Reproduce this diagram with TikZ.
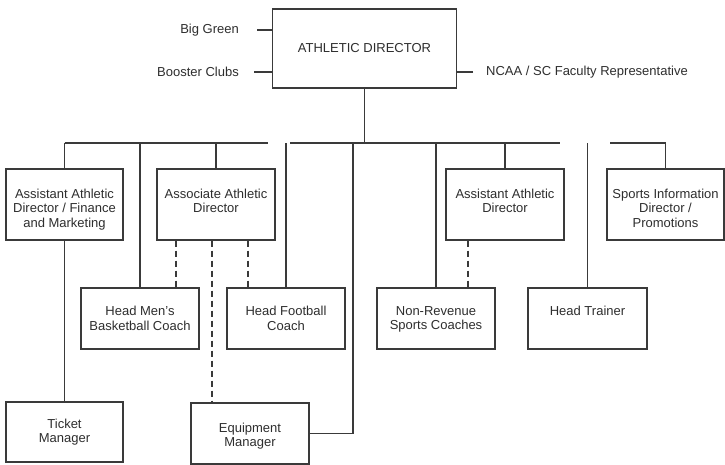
\documentclass[tikz,border=0pt]{standalone}
\usepackage{fontspec}
\setmainfont{Liberation Sans}
\usetikzlibrary{calc}
\definecolor{lineink}{HTML}{3A3A3A}
\definecolor{textink}{HTML}{2E2E2E}
\begin{document}
\begin{tikzpicture}[x=1pt,y=-1pt,
  ink/.style={draw=lineink, line width=1.4pt},
  orgbox/.style={ink, rectangle, inner sep=0pt, fill=white},
  boxtext/.style={anchor=north, align=center, inner sep=0pt, text=textink,
    font=\fontsize{13}{14.5}\selectfont},
  sidetext/.style={inner sep=0pt, text=textink, font=\fontsize{13}{14.5}\selectfont},
  link/.style={ink},
  dotted link/.style={ink, dash pattern=on 6pt off 4pt}]

  % page frame
  \fill[white] (0,0) rectangle (725,465);
  \useasboundingbox (0,0) rectangle (725,465);

  % top of the chart
  \node[orgbox, minimum width=184pt, minimum height=79pt, text=textink,
        font=\fontsize{13}{14.5}\selectfont] (ad) at (364.5,48.5) {ATHLETIC DIRECTOR};

  \node[sidetext, anchor=east] (bg) at (239,30) {Big Green};
  \node[sidetext, anchor=east] (bc) at (239,72) {Booster Clubs};
  \node[sidetext, anchor=west] (ncaa) at (486,72) {NCAA / SC Faculty Representative};
  \draw[link] ([xshift=18pt]bg.east) -- (bg.east -| ad.west);
  \draw[link] ([xshift=15pt]bc.east) -- (bc.east -| ad.west);
  \draw[link] ([xshift=-13pt]ncaa.west) -- (ncaa.west -| ad.east);

  % second row
  \node[orgbox, minimum width=117pt, minimum height=71pt] (afin) at (64.5,204.5) {};
  \node[orgbox, minimum width=118pt, minimum height=71pt] (aad) at (216,204.5) {};
  \node[orgbox, minimum width=118pt, minimum height=71pt] (asad) at (505,204.5) {};
  \node[orgbox, minimum width=117pt, minimum height=71pt] (spi) at (665.5,204.5) {};
  \node[boxtext] (afin-t) at ($(afin.north)+(0,20.5)$) {Assistant Athletic\\Director / Finance\\and Marketing};
  \node[boxtext] (aad-t) at ($(aad.north)+(0,20.5)$) {Associate Athletic\\Director};
  \node[boxtext] (asad-t) at ($(asad.north)+(0,20.5)$) {Assistant Athletic\\Director};
  \node[boxtext] (spi-t) at ($(spi.north)+(0,20.5)$) {Sports Information\\Director /\\Promotions};

  % third row
  \node[orgbox, minimum width=118pt, minimum height=61pt] (hmbc) at (140,318.5) {};
  \node[orgbox, minimum width=118pt, minimum height=61pt] (hfc) at (286,318.5) {};
  \node[orgbox, minimum width=118pt, minimum height=61pt] (nrc) at (436,318.5) {};
  \node[orgbox, minimum width=119pt, minimum height=61pt] (htr) at (587.5,318.5) {};
  \node[boxtext] (hmbc-t) at ($(hmbc.north)+(0,19)$) {Head Men’s\\Basketball Coach};
  \node[boxtext] (hfc-t) at ($(hfc.north)+(0,19)$) {Head Football\\Coach};
  \node[boxtext] (nrc-t) at ($(nrc.north)+(0,19)$) {Non-Revenue\\Sports Coaches};
  \node[boxtext] (htr-t) at ($(htr.north)+(0,19)$) {Head Trainer};

  % bottom row
  \node[orgbox, minimum width=117pt, minimum height=60pt] (tm) at (64.5,432) {};
  \node[orgbox, minimum width=118pt, minimum height=61pt] (em) at (250,433.5) {};
  \node[boxtext] (tm-t) at ($(tm.north)+(0,17.5)$) {Ticket\\Manager};
  \node[boxtext] (em-t) at ($(em.north)+(0,20.5)$) {Equipment\\Manager};

  % horizontal distribution line
  \coordinate (bus) at (0,143);
  \coordinate (gapAw) at (268,143);
  \coordinate (gapAe) at (290,143);
  \coordinate (gapBw) at (560,143);
  \coordinate (gapBe) at (610,143);
  \coordinate (emdrop) at (353,143);
  \draw[link] (afin.north |- bus) -- (gapAw);
  \draw[link] (gapAe) -- (gapBw);
  \draw[link] (gapBe) -- (spi.north |- bus);
  \draw[link] (ad.south) -- (ad.south |- bus);

  % solid reporting lines
  \draw[link] (afin.north) -- (afin.north |- bus);
  \draw[link] (hmbc.north) -- (hmbc.north |- bus);
  \draw[link] (aad.north) -- (aad.north |- bus);
  \draw[link] (hfc.north) -- (hfc.north |- bus);
  \draw[link] (em.east) -| (emdrop);
  \draw[link] (nrc.north) -- (nrc.north |- bus);
  \draw[link] (asad.north) -- (asad.north |- bus);
  \draw[link] (htr.north) -- (htr.north |- bus);
  \draw[link] (spi.north) -- (spi.north |- bus);
  \draw[link] (afin.south) -- (tm.north);

  % dashed coordination lines
  \draw[dotted link] ([xshift=-40pt]aad.south) -- ([xshift=-40pt]aad.south |- hmbc.north);
  \draw[dotted link] ([xshift=-4pt]aad.south) -- ([xshift=-4pt]aad.south |- em.north);
  \draw[dotted link] ([xshift=32pt]aad.south) -- ([xshift=32pt]aad.south |- hfc.north);
  \draw[dotted link] ([xshift=-37pt]asad.south) -- ([xshift=-37pt]asad.south |- nrc.north);
\end{tikzpicture}
\end{document}
